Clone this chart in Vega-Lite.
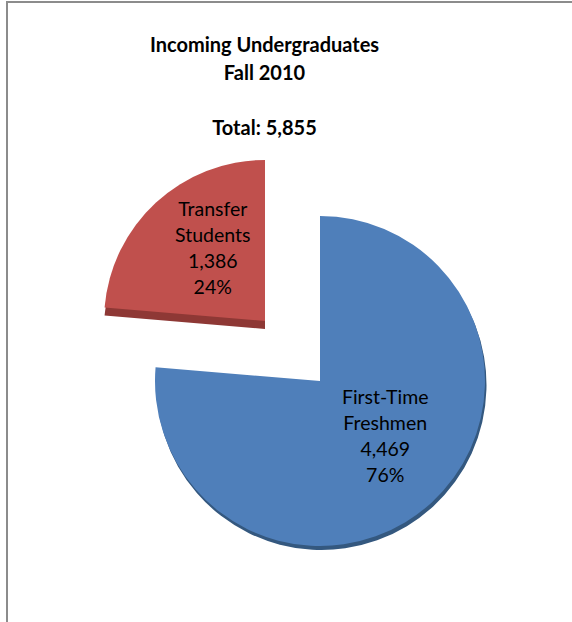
{
  "$schema": "https://vega.github.io/schema/vega-lite/v6.json",
  "width": 572,
  "height": 622,
  "autosize": {"type": "fit", "contains": "padding"},
  "padding": {"left": 7, "top": 2, "right": -6, "bottom": -6},
  "background": "white",
  "view": {"stroke": "#8c8c8c", "strokeWidth": 2},
  "config": {
    "view": {"stroke": "#8c8c8c", "strokeWidth": 2},
    "font": "Lato"
  },
  "title": {
    "text": ["Incoming Undergraduates", "Fall 2010"],
    "subtitle": "Total: 5,855",
    "font": "Lato",
    "fontSize": 20,
    "fontWeight": "bold",
    "color": "#000000",
    "lineHeight": 28,
    "subtitleFont": "Lato",
    "subtitleFontSize": 20,
    "subtitleFontWeight": "bold",
    "subtitleColor": "#000000",
    "subtitlePadding": 35,
    "anchor": "middle",
    "dx": -28,
    "offset": -137
  },
  "data": {
    "values": [
      {"category": "First-Time Freshmen", "value": 4469, "label": "First-Time\nFreshmen\n4,469\n76%"},
      {"category": "Transfer Students", "value": 1386, "label": "Transfer\nStudents\n1,386\n24%"}
    ]
  },
  "encoding": {
    "theta": {"field": "value", "type": "quantitative", "stack": true},
    "order": {"field": "category", "type": "nominal", "sort": "ascending"}
  },
  "layer": [
    {
      "mark": {"type": "arc", "outerRadius": 165, "xOffset": 29, "yOffset": 70, "fill": "#34587f"},
      "encoding": {
        "opacity": {"condition": {"test": "datum.category == 'First-Time Freshmen'", "value": 1}, "value": 0}
      }
    },
    {
      "mark": {"type": "arc", "outerRadius": 165, "xOffset": 27.5, "yOffset": 66, "fill": "#4f7fba"},
      "encoding": {
        "opacity": {"condition": {"test": "datum.category == 'First-Time Freshmen'", "value": 1}, "value": 0}
      }
    },
    {
      "mark": {"type": "arc", "outerRadius": 161, "xOffset": -27.5, "yOffset": 14, "fill": "#8e3835"},
      "encoding": {
        "opacity": {"condition": {"test": "datum.category == 'Transfer Students'", "value": 1}, "value": 0}
      }
    },
    {
      "mark": {"type": "arc", "outerRadius": 161, "xOffset": -27.5, "yOffset": 6, "fill": "#c0504d"},
      "encoding": {
        "opacity": {"condition": {"test": "datum.category == 'Transfer Students'", "value": 1}, "value": 0}
      }
    },
    {
      "mark": {"type": "text", "radius": 86, "xOffset": 27.5, "yOffset": 66, "dx": 7, "dy": -46, "lineBreak": "\n", "fontSize": 19.5, "lineHeight": 26, "font": "Lato", "color": "#000000", "baseline": "middle", "align": "center"},
      "encoding": {
        "text": {"field": "label", "type": "nominal"},
        "opacity": {"condition": {"test": "datum.category == 'First-Time Freshmen'", "value": 1}, "value": 0}
      }
    },
    {
      "mark": {"type": "text", "radius": 89, "xOffset": -27.5, "yOffset": 6, "dx": 8, "dy": -45, "lineBreak": "\n", "fontSize": 19.5, "lineHeight": 26, "font": "Lato", "color": "#000000", "baseline": "middle", "align": "center"},
      "encoding": {
        "text": {"field": "label", "type": "nominal"},
        "opacity": {"condition": {"test": "datum.category == 'Transfer Students'", "value": 1}, "value": 0}
      }
    }
  ]
}
